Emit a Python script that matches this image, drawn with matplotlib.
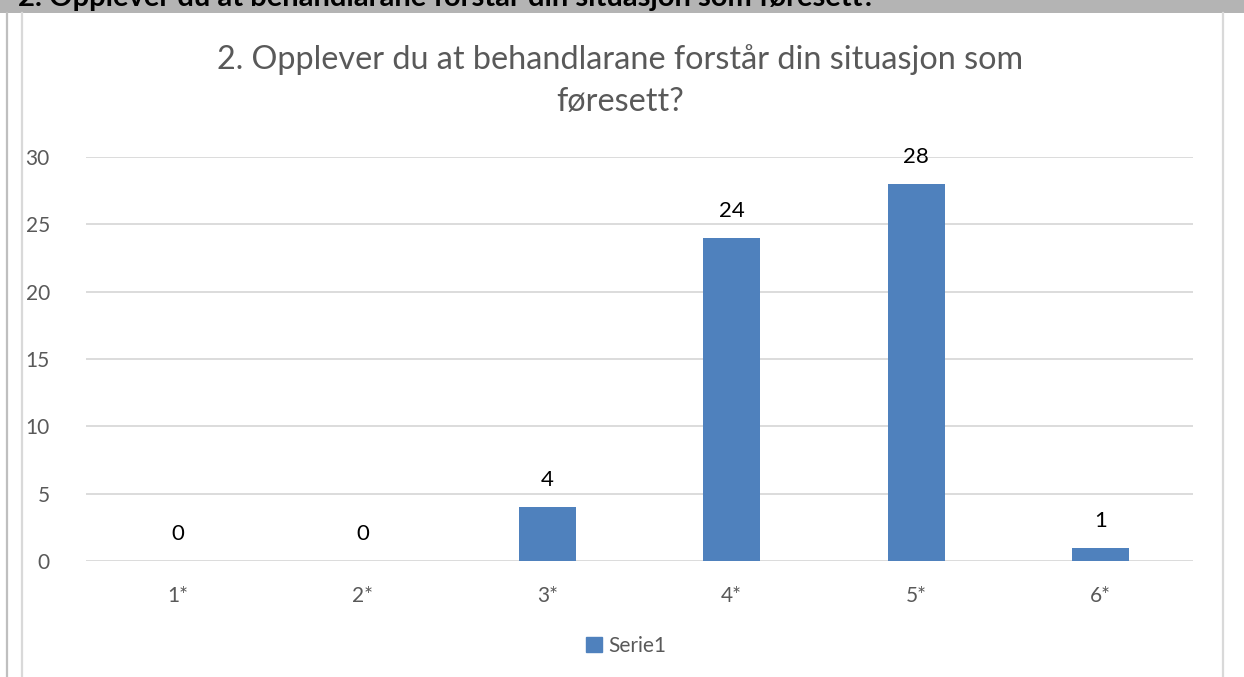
import matplotlib
matplotlib.use('Agg')
import matplotlib.pyplot as plt
from matplotlib.lines import Line2D
from matplotlib.patches import Rectangle

plt.rcParams['font.family'] = ['Lato', 'DejaVu Sans']

# data
categories = ['1*', '2*', '3*', '4*', '5*', '6*']
values = [0, 0, 4, 24, 28, 1]
series_name = 'Serie1'
title = '2. Opplever du at behandlarane forstår din situasjon som\nføresett?'
header = '2. Opplever du at behandlarane forstår din situasjon som føresett?'

BAR = '#4f81bd'
GRID = '#d9d9d9'
TXT = '#595959'

W, H = 1244, 677
fig = plt.figure(figsize=(W / 100, H / 100), dpi=100)
fig.patch.set_facecolor('white')

# grey header strip with clipped bold text
fig.patches.append(Rectangle((0, 1 - 13 / H), 1, 13 / H, transform=fig.transFigure,
                             facecolor='#b4b4b4', edgecolor='none', zorder=0))
fig.text(18 / W, 1 - 6 / H, header, fontsize=21, fontweight='bold', color='black',
         ha='left', va='baseline')

# frame lines
for xp, col in [(7.5, '#bfbfbf'), (21.5, GRID), (1222.5, GRID)]:
    fig.lines.append(Line2D([xp / W, xp / W], [0, 1 - 13 / H], transform=fig.transFigure,
                            color=col, linewidth=1.6))

ax = fig.add_axes([86 / W, 1 - 561 / H, (1193 - 86) / W, (561 - 157) / H])
x = range(len(categories))
bars = ax.bar(x, values, width=0.31, color=BAR, zorder=3)

ax.set_xlim(-0.5, len(categories) - 0.5)
ax.set_ylim(0, 30)
ax.set_yticks(range(0, 31, 5))
ax.set_xticks(list(x))
ax.set_xticklabels(categories)
ax.grid(axis='y', color=GRID, linewidth=1.3, zorder=0)
for s in ax.spines.values():
    s.set_visible(False)
ax.tick_params(axis='both', length=0, labelsize=15, labelcolor=TXT)
ax.tick_params(axis='x', pad=18)
ax.tick_params(axis='y', pad=26)

for b, v in zip(bars, values):
    ax.annotate(str(v), (b.get_x() + b.get_width() / 2, v), xytext=(0, 12),
                textcoords='offset points', ha='center', va='bottom',
                fontsize=16, color='black')

fig.text(620 / W, 1 - 111 / H, title, ha='center', va='baseline', fontsize=23.3,
         color=TXT, linespacing=1.48)

leg = fig.legend(handles=[Rectangle((0, 0), 1, 1, color=BAR)], labels=[series_name],
                 loc='center', bbox_to_anchor=(626 / W, 1 - 646 / H), frameon=False,
                 fontsize=15, handlelength=0.75, handleheight=0.75, handletextpad=0.3)
for t in leg.get_texts():
    t.set_color(TXT)

fig.savefig('out.png', dpi=100, facecolor='white')
